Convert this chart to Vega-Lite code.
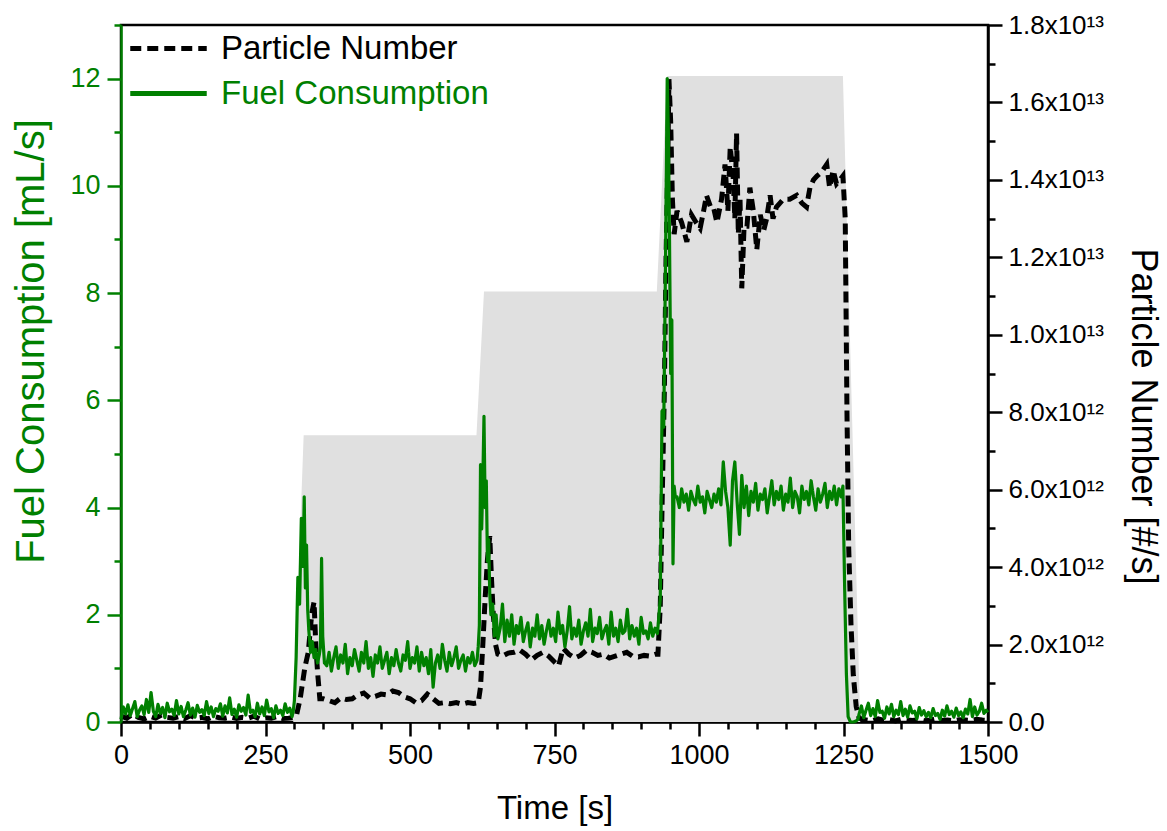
{
  "$schema": "https://vega.github.io/schema/vega-lite/v6.json",
  "width": 867,
  "height": 697,
  "autosize": {"type": "none"},
  "padding": {"left": 121, "top": 25, "right": 179, "bottom": 109},
  "background": "white",
  "config": {
    "font": "Liberation Sans",
    "view": {"stroke": "#000000", "strokeWidth": 2.5},
    "axis": {"grid": false, "labelFont": "Liberation Sans", "titleFont": "Liberation Sans", "titleFontWeight": "normal", "domainWidth": 2.5, "tickWidth": 2.5, "labelOverlap": false, "labelFlush": false},
    "legend": {
      "title": null, "orient": "none", "legendX": 31, "legendY": 7,
      "symbolType": "M-3,0H3", "symbolStrokeWidth": 5, "symbolSize": 650,
      "labelFontSize": 33, "labelFont": "Liberation Sans", "labelOffset": 36, "labelLimit": 600, "rowPadding": 11, "padding": 0
    }
  },
  "datasets": {
    "profile": [
      {"t": 0, "v": 0}, {"t": 298, "v": 0}, {"t": 316, "v": 5.35}, {"t": 615, "v": 5.35}, {"t": 628, "v": 8.03}, {"t": 927, "v": 8.03}, {"t": 945, "v": 12.05}, {"t": 1249, "v": 12.05}, {"t": 1279, "v": 0}, {"t": 1500, "v": 0}
    ],
    "fuel": [
      {"t":0,"f":0.05},{"t":4,"f":0.28},{"t":8,"f":0.15},{"t":12,"f":0.32},{"t":16,"f":0.12},{"t":20,"f":0.25},{"t":24,"f":0.38},{"t":28,"f":0.1},{"t":32,"f":0.22},{"t":36,"f":0.3},
      {"t":40,"f":0.14},{"t":44,"f":0.42},{"t":48,"f":0.18},{"t":52,"f":0.55},{"t":56,"f":0.2},{"t":60,"f":0.1},{"t":64,"f":0.33},{"t":68,"f":0.16},{"t":72,"f":0.27},{"t":76,"f":0.08},
      {"t":80,"f":0.35},{"t":84,"f":0.19},{"t":88,"f":0.24},{"t":92,"f":0.12},{"t":96,"f":0.4},{"t":100,"f":0.15},{"t":104,"f":0.29},{"t":108,"f":0.1},{"t":112,"f":0.22},{"t":116,"f":0.36},
      {"t":120,"f":0.13},{"t":124,"f":0.26},{"t":128,"f":0.09},{"t":132,"f":0.31},{"t":136,"f":0.18},{"t":140,"f":0.23},{"t":144,"f":0.12},{"t":148,"f":0.38},{"t":152,"f":0.16},{"t":156,"f":0.28},
      {"t":160,"f":0.1},{"t":164,"f":0.25},{"t":168,"f":0.2},{"t":172,"f":0.34},{"t":176,"f":0.11},{"t":180,"f":0.3},{"t":184,"f":0.17},{"t":188,"f":0.45},{"t":192,"f":0.14},{"t":196,"f":0.24},
      {"t":200,"f":0.09},{"t":204,"f":0.32},{"t":208,"f":0.2},{"t":212,"f":0.27},{"t":216,"f":0.13},{"t":220,"f":0.5},{"t":224,"f":0.18},{"t":228,"f":0.22},{"t":232,"f":0.1},{"t":236,"f":0.35},
      {"t":240,"f":0.15},{"t":244,"f":0.28},{"t":248,"f":0.12},{"t":252,"f":0.41},{"t":256,"f":0.19},{"t":260,"f":0.25},{"t":264,"f":0.08},{"t":268,"f":0.3},{"t":272,"f":0.16},{"t":276,"f":0.22},
      {"t":280,"f":0.12},{"t":284,"f":0.34},{"t":288,"f":0.18},{"t":292,"f":0.26},{"t":296,"f":0.1},
      {"t":298,"f":0.2},{"t":300,"f":0.4},{"t":303,"f":1.2},{"t":306,"f":2.7},{"t":309,"f":2.2},{"t":312,"f":3.8},{"t":315,"f":2.9},{"t":317,"f":4.2},{"t":319,"f":2.5},{"t":321,"f":3.3},
      {"t":323,"f":2.1},{"t":325,"f":1.7},{"t":328,"f":1.3},{"t":331,"f":1.5},{"t":334,"f":1.2},{"t":337,"f":1.35},{"t":340,"f":1.1},{"t":343,"f":1.25},{"t":345,"f":1.4},{"t":347,"f":3.05},{"t":349,"f":1.6},{"t":352,"f":1.1},
      {"t":356,"f":1.05},{"t":360,"f":1.3},{"t":364,"f":0.95},{"t":368,"f":1.2},{"t":372,"f":1.4},{"t":376,"f":1.0},{"t":380,"f":1.25},{"t":384,"f":1.1},{"t":388,"f":1.45},{"t":392,"f":0.9},
      {"t":396,"f":1.2},{"t":400,"f":1.05},{"t":404,"f":1.35},{"t":408,"f":1.15},{"t":412,"f":0.95},{"t":416,"f":1.3},{"t":420,"f":1.1},{"t":424,"f":1.5},{"t":428,"f":1.0},{"t":432,"f":1.2},
      {"t":436,"f":0.85},{"t":440,"f":1.25},{"t":444,"f":1.1},{"t":448,"f":1.4},{"t":452,"f":1.0},{"t":456,"f":1.15},{"t":460,"f":1.3},{"t":464,"f":0.9},{"t":468,"f":1.2},{"t":472,"f":1.05},
      {"t":476,"f":1.35},{"t":480,"f":1.1},{"t":484,"f":0.95},{"t":488,"f":1.25},{"t":492,"f":1.15},{"t":496,"f":1.5},{"t":500,"f":1.0},{"t":504,"f":1.2},{"t":508,"f":1.1},{"t":512,"f":1.4},
      {"t":516,"f":0.95},{"t":520,"f":1.3},{"t":524,"f":1.05},{"t":528,"f":1.2},{"t":532,"f":0.9},{"t":536,"f":1.35},{"t":540,"f":0.65},{"t":544,"f":1.1},{"t":548,"f":1.25},{"t":552,"f":1.0},
      {"t":556,"f":1.45},{"t":560,"f":1.15},{"t":564,"f":0.95},{"t":568,"f":1.3},{"t":572,"f":1.05},{"t":576,"f":1.2},{"t":580,"f":1.4},{"t":584,"f":1.0},{"t":588,"f":1.15},{"t":592,"f":1.25},
      {"t":596,"f":0.95},{"t":600,"f":1.2},{"t":604,"f":1.1},{"t":608,"f":1.3},{"t":612,"f":1.05},{"t":616,"f":1.15},
      {"t":618,"f":1.4},{"t":620,"f":1.8},{"t":622,"f":4.8},{"t":624,"f":3.6},{"t":626,"f":4.5},{"t":628,"f":5.7},{"t":630,"f":4.0},{"t":632,"f":4.5},{"t":634,"f":3.0},{"t":636,"f":3.4},
      {"t":638,"f":2.4},{"t":640,"f":2.0},{"t":643,"f":2.2},{"t":646,"f":1.6},{"t":649,"f":2.0},{"t":652,"f":1.55},
      {"t":656,"f":1.75},{"t":660,"f":2.2},{"t":664,"f":1.5},{"t":668,"f":1.9},{"t":672,"f":1.6},{"t":676,"f":2.0},{"t":680,"f":1.45},{"t":684,"f":1.8},{"t":688,"f":1.65},{"t":692,"f":1.95},
      {"t":696,"f":1.5},{"t":700,"f":1.7},{"t":704,"f":1.85},{"t":708,"f":1.4},{"t":712,"f":1.75},{"t":716,"f":1.6},{"t":720,"f":2.0},{"t":724,"f":1.55},{"t":728,"f":1.8},{"t":732,"f":1.45},
      {"t":736,"f":1.7},{"t":740,"f":1.9},{"t":744,"f":1.6},{"t":748,"f":1.75},{"t":752,"f":1.5},{"t":756,"f":2.05},{"t":760,"f":1.65},{"t":764,"f":1.8},{"t":768,"f":1.4},{"t":772,"f":1.7},
      {"t":776,"f":2.15},{"t":780,"f":1.55},{"t":784,"f":1.75},{"t":788,"f":1.6},{"t":792,"f":1.9},{"t":796,"f":1.45},{"t":800,"f":1.7},{"t":804,"f":1.85},{"t":808,"f":1.6},{"t":812,"f":2.1},
      {"t":816,"f":1.5},{"t":820,"f":1.75},{"t":824,"f":1.65},{"t":828,"f":1.95},{"t":832,"f":1.55},{"t":836,"f":1.7},{"t":840,"f":1.8},{"t":844,"f":1.45},{"t":848,"f":2.05},{"t":852,"f":1.6},
      {"t":856,"f":1.75},{"t":860,"f":1.5},{"t":864,"f":1.9},{"t":868,"f":1.65},{"t":872,"f":1.7},{"t":876,"f":2.1},{"t":880,"f":1.55},{"t":884,"f":1.8},{"t":888,"f":1.6},{"t":892,"f":1.75},
      {"t":896,"f":1.45},{"t":900,"f":1.95},{"t":904,"f":1.65},{"t":908,"f":1.7},{"t":912,"f":1.55},{"t":916,"f":1.85},{"t":920,"f":1.6},{"t":924,"f":1.75},{"t":928,"f":1.65},
      {"t":930,"f":1.9},{"t":933,"f":2.3},{"t":936,"f":5.8},{"t":939,"f":5.5},{"t":942,"f":8.5},{"t":945,"f":12.0},{"t":947,"f":11.0},{"t":949,"f":9.0},{"t":951,"f":6.5},{"t":953,"f":7.5},{"t":955,"f":2.95},{"t":957,"f":4.4},{"t":959,"f":4.2},
      {"t":962,"f":4.2},{"t":966,"f":4.0},{"t":970,"f":4.35},{"t":974,"f":4.1},{"t":978,"f":4.25},{"t":982,"f":3.95},{"t":986,"f":4.3},{"t":990,"f":4.15},{"t":994,"f":4.05},{"t":998,"f":4.4},
      {"t":1002,"f":4.1},{"t":1006,"f":4.2},{"t":1010,"f":3.9},{"t":1014,"f":4.3},{"t":1018,"f":4.15},{"t":1022,"f":4.0},{"t":1026,"f":4.25},{"t":1030,"f":4.1},{"t":1034,"f":4.35},{"t":1038,"f":4.05},
      {"t":1042,"f":4.85},{"t":1046,"f":4.3},{"t":1050,"f":4.0},{"t":1054,"f":3.3},{"t":1058,"f":4.5},{"t":1062,"f":4.85},{"t":1066,"f":4.1},{"t":1070,"f":3.5},{"t":1074,"f":4.6},{"t":1078,"f":4.0},
      {"t":1082,"f":4.4},{"t":1086,"f":3.85},{"t":1090,"f":4.3},{"t":1094,"f":4.1},{"t":1098,"f":4.45},{"t":1102,"f":3.95},{"t":1106,"f":4.25},{"t":1110,"f":4.15},{"t":1114,"f":4.35},{"t":1118,"f":3.9},
      {"t":1122,"f":4.2},{"t":1126,"f":4.5},{"t":1130,"f":4.05},{"t":1134,"f":4.3},{"t":1138,"f":4.15},{"t":1142,"f":4.4},{"t":1146,"f":3.95},{"t":1150,"f":4.25},{"t":1154,"f":4.1},{"t":1158,"f":4.55},
      {"t":1162,"f":4.0},{"t":1166,"f":4.3},{"t":1170,"f":4.2},{"t":1174,"f":3.9},{"t":1178,"f":4.4},{"t":1182,"f":4.15},{"t":1186,"f":4.3},{"t":1190,"f":4.05},{"t":1194,"f":4.5},{"t":1198,"f":4.2},
      {"t":1202,"f":3.95},{"t":1206,"f":4.35},{"t":1210,"f":4.1},{"t":1214,"f":4.25},{"t":1218,"f":4.45},{"t":1222,"f":4.0},{"t":1226,"f":4.3},{"t":1230,"f":4.15},{"t":1234,"f":4.4},{"t":1238,"f":4.05},
      {"t":1242,"f":4.35},{"t":1246,"f":4.2},
      {"t":1249,"f":4.4},{"t":1252,"f":2.5},{"t":1255,"f":0.9},{"t":1258,"f":0.1},{"t":1262,"f":0.0},{"t":1267,"f":0.0},{"t":1272,"f":0.02},{"t":1275,"f":0.05},
      {"t":1277,"f":0.15},{"t":1281,"f":0.3},{"t":1285,"f":0.08},{"t":1289,"f":0.22},{"t":1293,"f":0.35},{"t":1297,"f":0.12},{"t":1301,"f":0.25},{"t":1305,"f":0.1},{"t":1309,"f":0.4},{"t":1313,"f":0.18},
      {"t":1317,"f":0.2},{"t":1321,"f":0.07},{"t":1325,"f":0.28},{"t":1329,"f":0.15},{"t":1333,"f":0.33},{"t":1337,"f":0.1},{"t":1341,"f":0.22},{"t":1345,"f":0.14},{"t":1349,"f":0.38},{"t":1353,"f":0.12},
      {"t":1357,"f":0.24},{"t":1361,"f":0.09},{"t":1365,"f":0.3},{"t":1369,"f":0.17},{"t":1373,"f":0.2},{"t":1377,"f":0.06},{"t":1381,"f":0.27},{"t":1385,"f":0.13},{"t":1389,"f":0.21},{"t":1393,"f":0.1},
      {"t":1397,"f":0.18},{"t":1401,"f":0.08},{"t":1405,"f":0.25},{"t":1409,"f":0.12},{"t":1413,"f":0.16},{"t":1417,"f":0.05},{"t":1421,"f":0.22},{"t":1425,"f":0.11},{"t":1429,"f":0.3},{"t":1433,"f":0.14},
      {"t":1437,"f":0.2},{"t":1441,"f":0.09},{"t":1445,"f":0.26},{"t":1449,"f":0.12},{"t":1453,"f":0.19},{"t":1457,"f":0.08},{"t":1461,"f":0.24},{"t":1465,"f":0.15},{"t":1469,"f":0.42},{"t":1473,"f":0.1},
      {"t":1477,"f":0.28},{"t":1481,"f":0.13},{"t":1485,"f":0.2},{"t":1489,"f":0.35},{"t":1493,"f":0.16},{"t":1497,"f":0.22},{"t":1500,"f":0.18}
    ],
    "pn": [
      {"t":0,"p":1.5e11},{"t":10,"p":1.0e11},{"t":20,"p":2.0e11},{"t":30,"p":1.2e11},{"t":40,"p":0.8e11},{"t":50,"p":1.5e11},{"t":60,"p":1.0e11},{"t":70,"p":1.8e11},{"t":80,"p":1.2e11},{"t":90,"p":1.0e11},
      {"t":100,"p":1.4e11},{"t":110,"p":0.9e11},{"t":120,"p":1.6e11},{"t":130,"p":1.0e11},{"t":140,"p":1.2e11},{"t":150,"p":0.8e11},{"t":160,"p":1.5e11},{"t":170,"p":1.1e11},{"t":180,"p":1.0e11},{"t":190,"p":1.3e11},
      {"t":200,"p":0.9e11},{"t":210,"p":1.2e11},{"t":220,"p":1.0e11},{"t":230,"p":1.5e11},{"t":240,"p":0.8e11},{"t":250,"p":1.1e11},{"t":260,"p":1.0e11},{"t":270,"p":1.4e11},{"t":280,"p":0.9e11},{"t":290,"p":1.0e11},{"t":300,"p":1.2e11},
      {"t":304,"p":2e11},{"t":310,"p":6e11},{"t":318,"p":1.4e12},{"t":324,"p":1.8e12},{"t":330,"p":2.8e12},{"t":334,"p":3.1e12},{"t":337,"p":2.0e12},{"t":340,"p":1.3e12},{"t":344,"p":6e11},{"t":350,"p":6e11},
      {"t":360,"p":5.5e11},{"t":370,"p":5e11},{"t":380,"p":6.2e11},{"t":390,"p":5.8e11},{"t":400,"p":6e11},{"t":410,"p":7e11},{"t":420,"p":7.5e11},{"t":430,"p":6.2e11},{"t":440,"p":6.6e11},{"t":450,"p":7.2e11},
      {"t":460,"p":7e11},{"t":470,"p":8e11},{"t":480,"p":7.6e11},{"t":490,"p":6.5e11},{"t":500,"p":6e11},{"t":510,"p":5e11},{"t":520,"p":5.5e11},{"t":530,"p":7.2e11},{"t":540,"p":6e11},{"t":550,"p":4.8e11},
      {"t":560,"p":5e11},{"t":570,"p":4.7e11},{"t":580,"p":5e11},{"t":590,"p":4.6e11},{"t":600,"p":5e11},{"t":610,"p":4.8e11},{"t":618,"p":5e11},
      {"t":622,"p":9e11},{"t":626,"p":2.0e12},{"t":630,"p":3.2e12},{"t":634,"p":4.2e12},{"t":638,"p":4.8e12},{"t":641,"p":3.7e12},{"t":644,"p":2.8e12},{"t":648,"p":2.0e12},{"t":652,"p":1.75e12},
      {"t":660,"p":1.7e12},{"t":670,"p":1.78e12},{"t":680,"p":1.8e12},{"t":690,"p":1.86e12},{"t":700,"p":1.75e12},{"t":710,"p":1.6e12},{"t":720,"p":1.72e12},{"t":730,"p":1.8e12},{"t":740,"p":1.7e12},{"t":750,"p":1.55e12},
      {"t":757,"p":1.45e12},{"t":765,"p":1.9e12},{"t":775,"p":1.75e12},{"t":785,"p":1.65e12},{"t":795,"p":1.72e12},{"t":805,"p":1.85e12},{"t":815,"p":1.8e12},{"t":825,"p":1.72e12},{"t":835,"p":1.75e12},{"t":845,"p":1.65e12},
      {"t":855,"p":1.7e12},{"t":865,"p":1.75e12},{"t":875,"p":1.8e12},{"t":885,"p":1.7e12},{"t":895,"p":1.68e12},{"t":905,"p":1.72e12},{"t":915,"p":1.7e12},{"t":925,"p":1.75e12},
      {"t":929,"p":1.75e12},{"t":933,"p":3.0e12},{"t":936,"p":5.5e12},{"t":940,"p":8.5e12},{"t":943,"p":1.2e13},{"t":946,"p":1.45e13},{"t":948,"p":1.66e13},{"t":951,"p":1.55e13},{"t":954,"p":1.35e13},{"t":957,"p":1.26e13},
      {"t":962,"p":1.32e13},{"t":970,"p":1.29e13},{"t":979,"p":1.24e13},{"t":987,"p":1.31e13},{"t":995,"p":1.29e13},{"t":1002,"p":1.275e13},{"t":1008,"p":1.32e13},{"t":1013,"p":1.36e13},{"t":1020,"p":1.33e13},{"t":1025,"p":1.33e13},
      {"t":1031,"p":1.29e13},{"t":1039,"p":1.35e13},{"t":1045,"p":1.44e13},{"t":1050,"p":1.32e13},{"t":1054,"p":1.485e13},{"t":1059,"p":1.41e13},{"t":1062,"p":1.3e13},{"t":1065,"p":1.52e13},{"t":1068,"p":1.26e13},{"t":1071,"p":1.35e13},
      {"t":1074,"p":1.12e13},{"t":1078,"p":1.28e13},{"t":1083,"p":1.28e13},{"t":1088,"p":1.38e13},{"t":1094,"p":1.32e13},{"t":1100,"p":1.22e13},{"t":1106,"p":1.31e13},{"t":1112,"p":1.27e13},{"t":1117,"p":1.3e13},{"t":1123,"p":1.36e13},
      {"t":1128,"p":1.3e13},{"t":1134,"p":1.33e13},{"t":1140,"p":1.34e13},{"t":1146,"p":1.35e13},{"t":1157,"p":1.35e13},{"t":1169,"p":1.36e13},{"t":1178,"p":1.34e13},{"t":1186,"p":1.33e13},{"t":1192,"p":1.38e13},{"t":1198,"p":1.4e13},
      {"t":1204,"p":1.41e13},{"t":1212,"p":1.42e13},{"t":1221,"p":1.44e13},{"t":1226,"p":1.38e13},{"t":1232,"p":1.425e13},{"t":1238,"p":1.39e13},{"t":1244,"p":1.4e13},{"t":1249,"p":1.41e13},
      {"t":1253,"p":1.3e13},{"t":1256,"p":8e12},{"t":1259,"p":4.5e12},{"t":1263,"p":2.5e12},{"t":1267,"p":1.2e12},{"t":1272,"p":4e11},{"t":1277,"p":1e11},
      {"t":1290,"p":5e10},{"t":1300,"p":3e10},{"t":1310,"p":8e10},{"t":1320,"p":4e10},{"t":1330,"p":6e10},{"t":1340,"p":3e10},{"t":1350,"p":7e10},{"t":1360,"p":5e10},{"t":1370,"p":4e10},{"t":1380,"p":6e10},
      {"t":1390,"p":3e10},{"t":1400,"p":5e10},{"t":1410,"p":8e10},{"t":1420,"p":4e10},{"t":1430,"p":5e10},{"t":1440,"p":3e10},{"t":1450,"p":6e10},{"t":1460,"p":5e10},{"t":1470,"p":4e10},{"t":1480,"p":7e10},{"t":1490,"p":5e10},{"t":1500,"p":4e10}
    ]
  },
  "encoding": {
    "x": {
      "field": "t", "type": "quantitative",
      "scale": {"domain": [0, 1500], "nice": false, "zero": false},
      "axis": {
        "values": [0,50,100,150,200,250,300,350,400,450,500,550,600,650,700,750,800,850,900,950,1000,1050,1100,1150,1200,1250,1300,1350,1400,1450,1500],
        "labelExpr": "datum.value % 250 === 0 ? format(datum.value, 'd') : ''",
        "tickSize": {"condition": {"test": "datum.value % 250 === 0", "value": 14}, "value": 7},
        "domainColor": "#000000", "tickColor": "#000000", "labelColor": "#000000",
        "labelFontSize": 27, "labelPadding": 6,
        "title": "Time [s]", "titleFontSize": 33, "titleColor": "#000000", "titlePadding": 24
      }
    }
  },
  "layer": [
    {
      "data": {"name": "profile"},
      "mark": {"type": "area", "color": "#e0e0e0", "opacity": 1},
      "encoding": {
        "y": {"field": "v", "type": "quantitative", "scale": {"domain": [0, 13], "nice": false, "zero": true}, "axis": null}
      }
    },
    {
      "data": {"name": "pn"},
      "mark": {"type": "line", "strokeWidth": 5, "strokeCap": "butt"},
      "encoding": {
        "y": {
          "field": "p", "type": "quantitative",
          "scale": {"domain": [0, 18000000000000], "nice": false, "zero": true},
          "axis": {
            "orient": "right",
            "values": [0,1e12,2e12,3e12,4e12,5e12,6e12,7e12,8e12,9e12,1e13,1.1e13,1.2e13,1.3e13,1.4e13,1.5e13,1.6e13,1.7e13,1.8e13],
            "labelExpr": "datum.value === 0 ? '0.0' : (round(datum.value / 1e12) % 2 !== 0 ? '' : (datum.value < 1e13 ? format(datum.value / 1e12, '.1f') + 'x10¹²' : format(datum.value / 1e13, '.1f') + 'x10¹³'))",
            "tickSize": {"condition": {"test": "round(datum.value / 1e12) % 2 === 0", "value": 14}, "value": 7},
            "domainColor": "#000000", "tickColor": "#000000", "labelColor": "#000000",
            "labelFontSize": 26, "labelPadding": 6,
            "title": "Particle Number [#/s]", "titleFontSize": 36, "titleColor": "#000000", "titlePadding": 20, "titleY": 391
          }
        },
        "color": {
          "datum": "Particle Number", "type": "nominal",
          "scale": {"domain": ["Particle Number", "Fuel Consumption"], "range": ["#000000", "#008000"]},
          "legend": {"encode": {"labels": {"update": {"fill": {"signal": "datum.label === 'Fuel Consumption' ? '#008000' : '#000000'"}}}}}
        },
        "strokeDash": {
          "datum": "Particle Number", "type": "nominal",
          "scale": {"domain": ["Particle Number", "Fuel Consumption"], "range": [[11, 6], [1, 0]]},
          "legend": {"encode": {"labels": {"update": {"fill": {"signal": "datum.label === 'Fuel Consumption' ? '#008000' : '#000000'"}}}}}
        }
      }
    },
    {
      "data": {"name": "fuel"},
      "mark": {"type": "line", "strokeWidth": 3.2, "strokeJoin": "round"},
      "encoding": {
        "y": {
          "field": "f", "type": "quantitative",
          "scale": {"domain": [0, 13], "nice": false, "zero": true},
          "axis": {
            "orient": "left",
            "values": [0,1,2,3,4,5,6,7,8,9,10,11,12,13],
            "labelExpr": "datum.value % 2 === 0 ? datum.label : ''",
            "tickSize": {"condition": {"test": "datum.value % 2 === 0", "value": 14}, "value": 7},
            "domainColor": "#008000", "tickColor": "#008000", "labelColor": "#008000",
            "labelFontSize": 27, "labelPadding": 7,
            "title": "Fuel Consumption [mL/s]", "titleFontSize": 40, "titleColor": "#008000", "titlePadding": 18, "titleY": 316
          }
        },
        "color": {
          "datum": "Fuel Consumption", "type": "nominal",
          "scale": {"domain": ["Particle Number", "Fuel Consumption"], "range": ["#000000", "#008000"]},
          "legend": {"encode": {"labels": {"update": {"fill": {"signal": "datum.label === 'Fuel Consumption' ? '#008000' : '#000000'"}}}}}
        },
        "strokeDash": {
          "datum": "Fuel Consumption", "type": "nominal",
          "scale": {"domain": ["Particle Number", "Fuel Consumption"], "range": [[11, 6], [1, 0]]},
          "legend": {"encode": {"labels": {"update": {"fill": {"signal": "datum.label === 'Fuel Consumption' ? '#008000' : '#000000'"}}}}}
        }
      }
    }
  ],
  "resolve": {"scale": {"y": "independent"}}
}
